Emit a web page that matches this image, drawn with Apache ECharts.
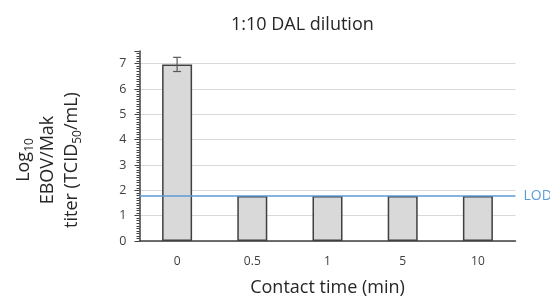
<!DOCTYPE html>
<html>
<head>
<meta charset="utf-8">
<script src="https://cdn.jsdelivr.net/npm/echarts@6/dist/echarts.min.js"></script>
<style>
html,body{margin:0;padding:0;background:#fff;}
#chart{width:550px;height:298px;}
</style>
</head>
<body>
<div id="chart"></div>
<script>
var categories = ['0', '0.5', '1', '5', '10'];
var titerMean = [6.97, 1.78, 1.78, 1.78, 1.78];
var titerErr = [0.28, 0, 0, 0, 0];
var lodValue = 1.78;

var errData = [];
for (var i = 0; i < categories.length; i++) {
    if (titerErr[i] > 0) {
        errData.push([i, titerMean[i] - titerErr[i], titerMean[i] + titerErr[i]]);
    }
}

// last split line (at 7.5, the axis top) is hidden
var gridColors = ['#d9d9d9','#d9d9d9','#d9d9d9','#d9d9d9','#d9d9d9','#d9d9d9','#d9d9d9','#d9d9d9','rgba(0,0,0,0)'];

var myChart = echarts.init(document.getElementById('chart'));
var font = '"Open Sans", "Noto Sans", sans-serif';
var option = {
    animation: false,
    textStyle: { fontFamily: font },
    title: {
        text: '1:10 DAL dilution',
        left: 226,
        top: 11,
        textStyle: { fontSize: 18, fontWeight: 'normal', color: '#262626', fontFamily: font }
    },
    grid: { left: 139.5, right: 34.5, top: 51, bottom: 57, containLabel: false, outerBoundsMode: 'none' },
    xAxis: {
        type: 'category',
        data: categories,
        name: 'Contact time (min)',
        nameLocation: 'middle',
        nameGap: 38,
        nameTextStyle: { fontSize: 18, color: '#262626' },
        axisLine: { lineStyle: { color: '#404040', width: 1.5 } },
        axisTick: { show: false },
        axisLabel: { fontSize: 12, color: '#404040', margin: 15 }
    },
    yAxis: {
        type: 'value',
        min: 0,
        max: 7.5,
        interval: 1,
        name: 'Log{s|10}\nEBOV/Mak\ntiter (TCID{s|50}/mL)',
        nameLocation: 'middle',
        nameGap: 56,
        nameTextStyle: {
            fontSize: 18,
            color: '#262626',
            lineHeight: 24,
            align: 'center',
            padding: [0, 28, 0, 0],
            rich: {
                s: { fontSize: 12, verticalAlign: 'bottom', lineHeight: 20 }
            }
        },
        axisLine: { show: true, lineStyle: { color: '#404040', width: 1.5 } },
        axisTick: { show: true, inside: false, length: 5, lineStyle: { color: '#404040' } },
        minorTick: { show: true, splitNumber: 10, length: 3, lineStyle: { color: '#404040' } },
        axisLabel: {
            fontSize: 12.5, color: '#404040', margin: 13,
            formatter: function (v) { return v % 1 === 0 ? String(v) : ''; }
        },
        splitLine: { show: true, lineStyle: { color: gridColors, width: 1 } }
    },
    series: [
        {
            type: 'bar',
            data: titerMean,
            barWidth: 30,
            itemStyle: { color: '#d9d9d9', borderColor: '#404040', borderWidth: 1.5 },
            markLine: {
                symbol: ['none', 'none'],
                silent: true,
                lineStyle: { color: '#5b9bd5', width: 1.5, type: 'solid' },
                label: { show: true, position: 'end', formatter: 'LOD', color: '#5b9bd5', fontSize: 14, distance: 8 },
                data: [{ yAxis: lodValue }]
            },
            z: 2
        },
        {
            type: 'custom',
            data: errData,
            z: 3,
            renderItem: function (params, api) {
                var x = api.value(0);
                var lo = api.coord([x, api.value(1)]);
                var hi = api.coord([x, api.value(2)]);
                var hw = 4;
                var st = { stroke: '#595959', lineWidth: 1.2 };
                return {
                    type: 'group',
                    children: [
                        { type: 'line', shape: { x1: lo[0], y1: lo[1], x2: hi[0], y2: hi[1] }, style: st },
                        { type: 'line', shape: { x1: lo[0] - hw, y1: lo[1], x2: lo[0] + hw, y2: lo[1] }, style: st },
                        { type: 'line', shape: { x1: hi[0] - hw, y1: hi[1], x2: hi[0] + hw, y2: hi[1] }, style: st }
                    ]
                };
            }
        }
    ]
};
myChart.setOption(option);
</script>
</body>
</html>
